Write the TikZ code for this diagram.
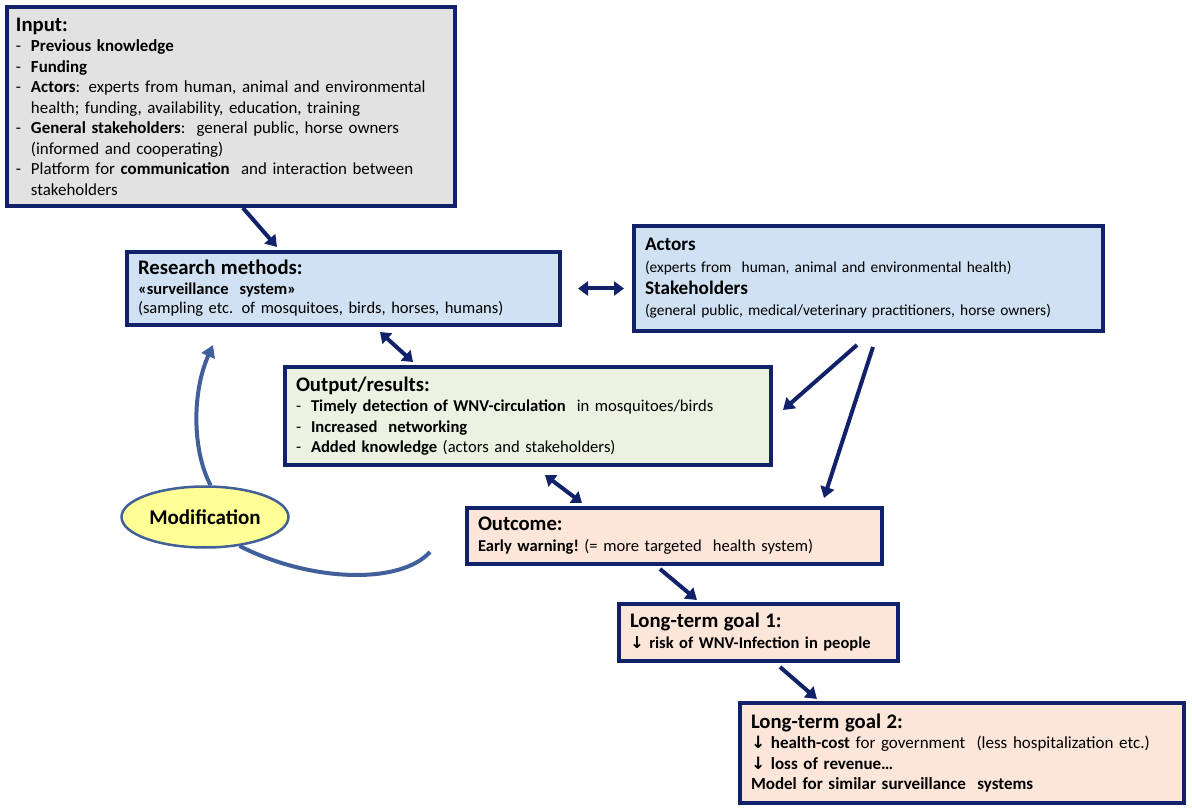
\documentclass[tikz,border=0pt]{standalone}
\usepackage{fontspec}
\setmainfont{Carlito}
\newfontfamily\arrfont{DejaVu Sans}
\usetikzlibrary{arrows.meta,shapes.geometric}
\definecolor{navy}{HTML}{12226A}
\definecolor{steel}{HTML}{41609A}
\definecolor{grayfill}{HTML}{E2E2E2}
\definecolor{bluefill}{HTML}{CFE1F3}
\definecolor{greenfill}{HTML}{EBF2E1}
\definecolor{peachfill}{HTML}{FCE5D9}
\definecolor{modfill}{HTML}{FFFF96}
\newcommand{\hd}[1]{{\fontsize{20.7}{23}\selectfont\bfseries #1}\par}
\newcommand{\itm}[1]{\hangindent=15pt\hangafter=1\noindent\makebox[15pt][l]{-}#1\par}
\newcommand{\nl}{\hfil\break}
\newcommand{\dn}{{\arrfont\bfseries ↓}}
\tikzset{
	box/.style={draw=navy, line width=4pt, anchor=north west, align=left, inner xsep=11pt, inner ysep=2pt},
	arr/.style={navy, line width=4pt, -{Triangle[length=11pt,width=14pt]}},
	dbl/.style={navy, line width=4pt, {Triangle[length=10pt,width=14pt]}-{Triangle[length=10pt,width=14pt]}},
	back/.style={steel, line width=4pt}
}
\begin{document}
\begin{tikzpicture}[x=1pt,y=-1pt]
	\useasboundingbox (0,0) rectangle (1192,810);
	\node[box, fill=grayfill, inner xsep=9pt, text width=430pt, minimum height=199pt, font=\fontsize{16.9}{20.5}\selectfont] (input) at (5,5) {\hd{Input:}
		\itm{\textbf{Previous knowledge}}
		\itm{\textbf{Funding}}
		\itm{\textbf{Actors}: experts from\ human, animal and environmental\nl health; funding, availability, education, training}
		\itm{\textbf{General stakeholders}:\ \ general public, horse owners\nl (informed and cooperating)}
		\itm{Platform for \textbf{communication}\ \ and interaction between\nl stakeholders}};
	\node[box, fill=bluefill, text width=411pt, minimum height=73pt, font=\fontsize{16.5}{19.5}\selectfont] (research) at (125,250) {\hd{Research methods:}
		\textbf{«surveillance\ \ system»}\\(sampling etc. of mosquitoes, birds, horses, humans)};
	\node[box, fill=bluefill, text width=447pt, minimum height=105pt, font=\fontsize{15.4}{21.7}\selectfont] (actors) at (632,224) {{\fontsize{19.2}{21.7}\selectfont\bfseries Actors}\\
		(experts from\ \ human, animal and environmental health)\\
		{\fontsize{19.2}{21.7}\selectfont\bfseries Stakeholders}\\
		(general public, medical/veterinary practitioners, horse owners)};
	\node[box, fill=greenfill, text width=464pt, minimum height=98pt, font=\fontsize{16.6}{20.5}\selectfont] (output) at (283,365) {\hd{Output/results:}
		\itm{\textbf{Timely detection of WNV-circulation}\ \ in mosquitoes/birds}
		\itm{\textbf{Increased\ \ networking}}
		\itm{\textbf{Added knowledge} (actors and stakeholders)}};
	\node[box, fill=peachfill, text width=393pt, minimum height=56pt, font=\fontsize{16.6}{21}\selectfont] (outcome) at (465,506) {\hd{Outcome:}
		\textbf{Early warning!}\ (= more targeted\ \ health system)};
	\node[box, fill=peachfill, text width=257pt, minimum height=57pt, font=\fontsize{16.5}{21}\selectfont] (goal1) at (617,602) {\hd{Long-term goal 1:}
		\dn\ \textbf{risk of WNV-Infection in people}};
	\node[box, fill=peachfill, text width=422pt, minimum height=100pt, font=\fontsize{17}{20.5}\selectfont] (goal2) at (738,701) {\hd{Long-term goal 2:}
		\dn\ \textbf{health-cost} for government\ \ (less hospitalization etc.)\\
		\dn\ \textbf{loss of revenue…}\\
		\textbf{Model for similar surveillance\ \ systems}};
	\node[ellipse, draw=steel, line width=2.5pt, fill=modfill, minimum width=164pt, minimum height=61pt, font=\fontsize{21}{23}\selectfont\bfseries] (mod) at (205,517) {Modification};
	\coordinate (top) at (213,345);
	\draw[arr] ([xshift=238pt]input.south west) -- ([xshift=152pt,yshift=3pt]research.north west);
	\draw[dbl] ([xshift=16pt]research.east) -- ([xshift=-8pt,yshift=-10pt]actors.west);
	\draw[dbl] ([xshift=255pt,yshift=-5pt]research.south west) -- ([xshift=130pt,yshift=3pt]output.north west);
	\draw[arr] ([xshift=225pt,yshift=-12pt]actors.south west) -- ([xshift=10pt,yshift=6pt]output.east);
	\draw[arr] ([xshift=241pt,yshift=-14pt]actors.south west) -- ([xshift=-60pt,yshift=8pt]outcome.north east);
	\draw[dbl] ([xshift=262pt,yshift=-8pt]output.south west) -- ([xshift=117pt,yshift=3pt]outcome.north west);
	\draw[arr] ([xshift=195pt,yshift=-3pt]outcome.south west) -- ([xshift=80pt,yshift=2pt]goal1.north west);
	\draw[arr] ([xshift=163pt,yshift=-4pt]goal1.south west) -- ([xshift=79pt,yshift=2pt]goal2.north west);
	\draw[back] ([xshift=-35pt,yshift=-16pt]outcome.west) .. controls (400,585) and (310,582) .. (mod.-40);
	\draw[back, -{Triangle[length=12pt,width=14pt]}] (mod.80) .. controls (192,450) and (192,392) .. (top);
\end{tikzpicture}
\end{document}
